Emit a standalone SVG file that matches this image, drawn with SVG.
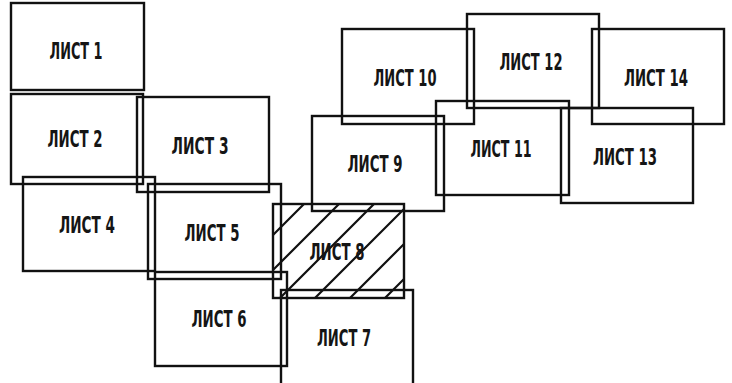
<svg xmlns="http://www.w3.org/2000/svg" width="732" height="383" viewBox="0 0 732 383">
<style>
.s rect{fill:none;stroke:#111;stroke-width:2.4}
.s text{font-family:"DejaVu Sans Condensed","Liberation Sans Narrow","Liberation Sans",sans-serif;font-size:23px;font-weight:bold;fill:#151515;text-anchor:middle}
.h{stroke:#111;stroke-width:2.2;fill:none}
</style>
<defs><clipPath id="c8"><rect x="273" y="204" width="131" height="94"/></clipPath></defs>
<g class="s">
<g id="sheet1"><rect x="11" y="3" width="133" height="87"/><text x="76" y="59" textLength="53" lengthAdjust="spacingAndGlyphs">ЛИСТ 1</text></g>
<g id="sheet2"><rect x="11" y="94" width="132" height="90"/><text x="75" y="147" textLength="55" lengthAdjust="spacingAndGlyphs">ЛИСТ 2</text></g>
<g id="sheet3"><rect x="137" y="97" width="132" height="95"/><text x="200" y="154" textLength="57" lengthAdjust="spacingAndGlyphs">ЛИСТ 3</text></g>
<g id="sheet4"><rect x="23" y="177" width="132" height="94"/><text x="87" y="233" textLength="56" lengthAdjust="spacingAndGlyphs">ЛИСТ 4</text></g>
<g id="sheet5"><rect x="148" y="184" width="133" height="95"/><text x="212" y="241" textLength="55" lengthAdjust="spacingAndGlyphs">ЛИСТ 5</text></g>
<g id="sheet6"><rect x="155" y="272" width="132" height="94"/><text x="219" y="327" textLength="55" lengthAdjust="spacingAndGlyphs">ЛИСТ 6</text></g>
<g id="sheet8"><rect x="273" y="204" width="131" height="94"/>
<g clip-path="url(#c8)" class="h"><path d="M273,235 L304,204 M273,270 L339,204 M273,305 L374,204 M308,305 L409,204 M343,305 L409,239 M378,305 L409,274"/></g>
<text x="337" y="260" textLength="55" lengthAdjust="spacingAndGlyphs">ЛИСТ 8</text></g>
<g id="sheet7"><rect x="281" y="290" width="132" height="95"/><text x="344" y="346" textLength="54" lengthAdjust="spacingAndGlyphs">ЛИСТ 7</text></g>
<g id="sheet9"><rect x="312" y="116" width="132" height="95"/><text x="375" y="172" textLength="55" lengthAdjust="spacingAndGlyphs">ЛИСТ 9</text></g>
<g id="sheet10"><rect x="342" y="29" width="132" height="95"/><text x="405" y="86" textLength="63" lengthAdjust="spacingAndGlyphs">ЛИСТ 10</text></g>
<g id="sheet11"><rect x="436" y="101" width="133" height="94"/><text x="501" y="157" textLength="61" lengthAdjust="spacingAndGlyphs">ЛИСТ 11</text></g>
<g id="sheet12"><rect x="467" y="14" width="132" height="94"/><text x="531" y="70" textLength="63" lengthAdjust="spacingAndGlyphs">ЛИСТ 12</text></g>
<g id="sheet13"><rect x="561" y="108" width="132" height="95"/><text x="625" y="165" textLength="64" lengthAdjust="spacingAndGlyphs">ЛИСТ 13</text></g>
<g id="sheet14"><rect x="592" y="29" width="132" height="95"/><text x="656" y="86" textLength="64" lengthAdjust="spacingAndGlyphs">ЛИСТ 14</text></g>
</g>
<g id="connectors"/>
</svg>
